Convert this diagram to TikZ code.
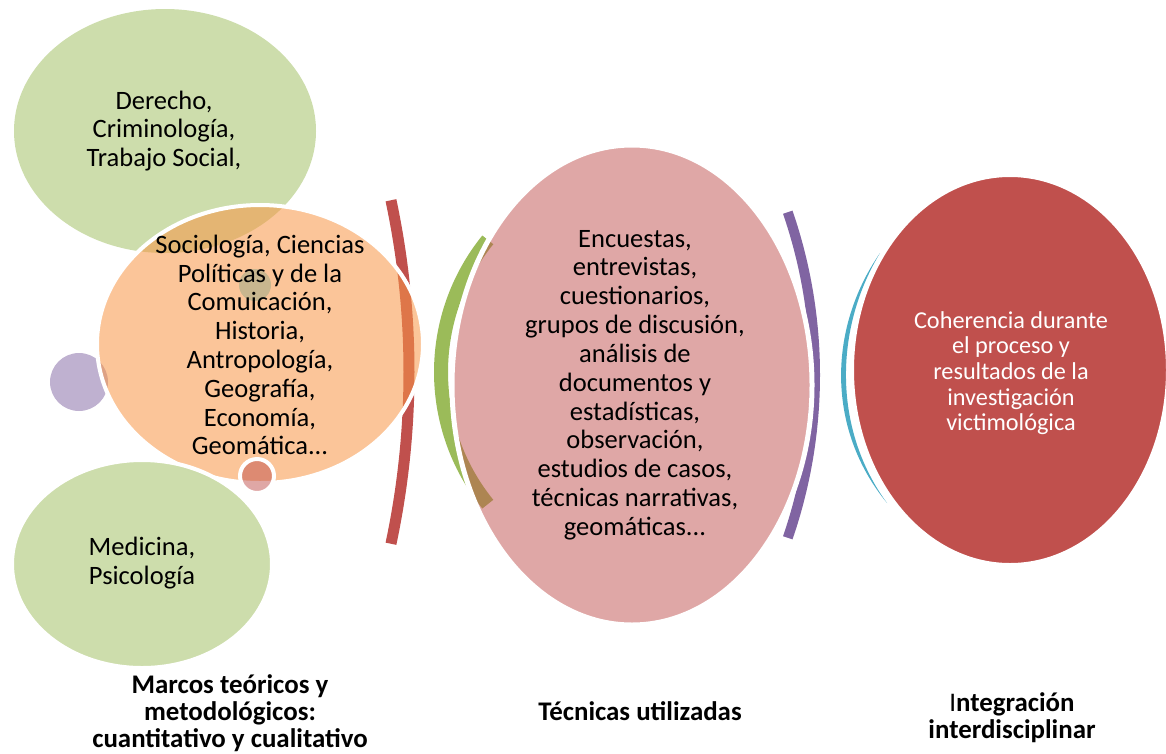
\documentclass[tikz,border=0pt]{standalone}
\usepackage{fontspec}
\setmainfont{Carlito}
\definecolor{accred}{HTML}{C0504D}
\definecolor{accgreen}{HTML}{9BBB59}
\definecolor{accorange}{HTML}{F79646}
\definecolor{accpurple}{HTML}{8064A2}
\definecolor{accteal}{HTML}{4BACC6}
\definecolor{dotgrey}{RGB}{200,182,143}
\tikzset{
  blob/.style={draw=white, line width=0.08cm, fill opacity=0.5, draw opacity=1},
  bodytext/.style={align=center, font=\fontsize{15.1}{16.4}\selectfont},
  tagtext/.style={align=center, font=\fontsize{15.3}{15.3}\selectfont\bfseries},
}
\begin{document}
\begin{tikzpicture}
  \useasboundingbox (0,0) rectangle (23.32,-15.06);

  % marcos
  \fill [accgreen, fill opacity=0.5] (3.30,-2.62) ellipse [x radius=3.02, y radius=2.44];
  \fill [accpurple, fill opacity=0.5] (1.58,-7.64) circle (0.58);
  \draw [accred, line width=0.22cm] (-8.34,-7.44) ++(-12:16.52) arc (-12:12:16.52);
  \draw [blob, fill=accorange, fill opacity=0.55] (5.20,-6.88) ellipse [x radius=3.26, y radius=2.78];
  \fill [dotgrey] (5.10,-5.70) circle (0.32);
  \draw [blob, fill=accgreen] (2.84,-11.28) ellipse [x radius=2.60, y radius=2.08];
  \draw [blob, fill=accred] (5.14,-9.52) circle (0.34);

  % tecnicas
  \draw [accgreen, line width=0.28cm] (13.02,-7.44) ++(141:4.20) arc (141:219:4.20);
  \draw [accpurple, line width=0.20cm] (6.30,-7.50) ++(-19:10) arc (-19:19:10);
  \draw [blob, line width=0.10cm, fill=accred] (12.64,-7.70) ellipse [x radius=3.60, y radius=4.80];

  % integracion
  \fill [accteal] (17.60,-5.06) .. controls (16.54,-6.60) and (16.54,-8.60) .. (17.74,-10.06)
    .. controls (16.67,-8.60) and (16.67,-6.60) .. (17.60,-5.06);
  \draw [white, line width=0.08cm, fill=accred] (20.20,-7.40) ellipse [x radius=3.16, y radius=3.90];

  \node [bodytext] (law) at (3.28,-2.62) {Derecho,\\Criminología,\\Trabajo Social,};
  \node [bodytext] (social) at (5.20,-6.90) {Sociología, Ciencias\\Políticas y de la\\Comuicación,\\Historia,\\Antropología,\\Geografía,\\Economía,\\Geomática...};
  \node [bodytext] (health) at (2.84,-11.26) {Medicina,\\Psicología};
  \node [bodytext] (methods) at (12.70,-7.70) {Encuestas,\\entrevistas,\\cuestionarios,\\grupos de discusión,\\análisis de\\documentos y\\estadísticas,\\observación,\\estudios de casos,\\técnicas narrativas,\\geomáticas...};
  \node [align=center, text=white, font=\fontsize{13.8}{14.6}\selectfont] (coherence) at (20.22,-7.46) {Coherencia durante\\el proceso y\\resultados de la\\investigación\\victimológica};

  \node [tagtext] (frames) at (4.60,-14.26) {Marcos teóricos y\\metodológicos:\\cuantitativo y cualitativo};
  \node [tagtext] (tools) at (12.80,-14.22) {Técnicas utilizadas};
  \node [tagtext] (merge) at (20.24,-14.36) {{\mdseries I}ntegración\\interdisciplinar};
\end{tikzpicture}
\end{document}
